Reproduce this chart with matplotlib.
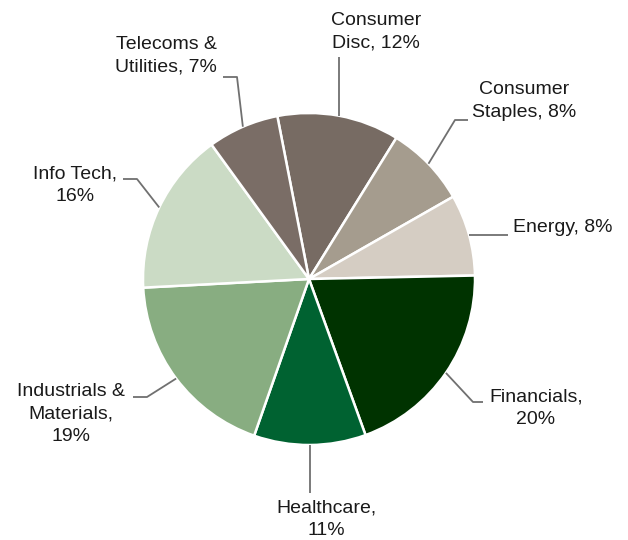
import matplotlib.pyplot as plt
import numpy as np

plt.rcParams['font.family'] = ['Liberation Sans', 'DejaVu Sans']

# sector weights, clockwise from the top
sectors = ['Consumer\nDisc', 'Consumer\nStaples', 'Energy', 'Financials', 'Healthcare',
           'Industrials &\nMaterials', 'Info Tech', 'Telecoms &\nUtilities']
weights = [12, 8, 8, 20, 11, 19, 16, 7]
seps = [', ', ', ', ', ', ',\n', ',\n', ',\n', ',\n', ', ']
colors = ['#776b63', '#a59c8e', '#d5cdc3', '#003300', '#006231',
          '#88ad81', '#cbdbc5', '#7a6d66']

# pie centre / radius in pixels, used only to place labels
CX, CY, R = 309, 279, 166


def px(x, y):
    return (x - CX) / R, (CY - y) / R


# label position (pixels), alignment, leader elbow points (None = keep edge coord)
layout = [
    dict(text=(376, 32), ha='center', path=[(None, 57)]),
    dict(text=(524, 101), ha='center', path=[(455, 120), (468, 120)]),
    dict(text=(513, 228), ha='left', path=[(508, None)]),
    dict(text=(536, 408), ha='center', path=[(473, 402), (483, 402)]),
    dict(text=(326, 519), ha='center', path=[(None, 493)]),
    dict(text=(71, 414), ha='center', path=[(147, 397), (133, 397)]),
    dict(text=(75, 185), ha='center', path=[(137, 179), (123, 179)]),
    dict(text=(166, 56), ha='center', path=[(237, 77), (223, 77)]),
]

fig = plt.figure(figsize=(6.28, 5.4), dpi=100)
ax = fig.add_axes([0, 0, 1, 1])
wedges, _ = ax.pie(weights, colors=colors, startangle=101, counterclock=False,
                   wedgeprops=dict(edgecolor='white', linewidth=1.8))
ax.set_xlim(-CX / R, (628 - CX) / R)
ax.set_ylim(-(540 - CY) / R, CY / R)
ax.axis('off')

for w, name, sep, val, lay in zip(wedges, sectors, seps, weights, layout):
    mid = np.deg2rad((w.theta1 + w.theta2) / 2)
    ex, ey = np.cos(mid), np.sin(mid)
    xs, ys = [ex], [ey]
    for (x, y) in lay['path']:
        dx = ex if x is None else px(x, 0)[0]
        dy = ey if y is None else px(0, y)[1]
        xs.append(dx)
        ys.append(dy)
    ax.plot(xs, ys, color='#707070', lw=1.3, solid_capstyle='butt')
    tx, ty = px(*lay['text'])
    ax.text(tx, ty, f'{name}{sep}{val}%', ha=lay['ha'], va='center',
            multialignment='center', fontsize=14, color='#1a1a1a',
            linespacing=1.4)

fig.savefig('out.png', dpi=100)
